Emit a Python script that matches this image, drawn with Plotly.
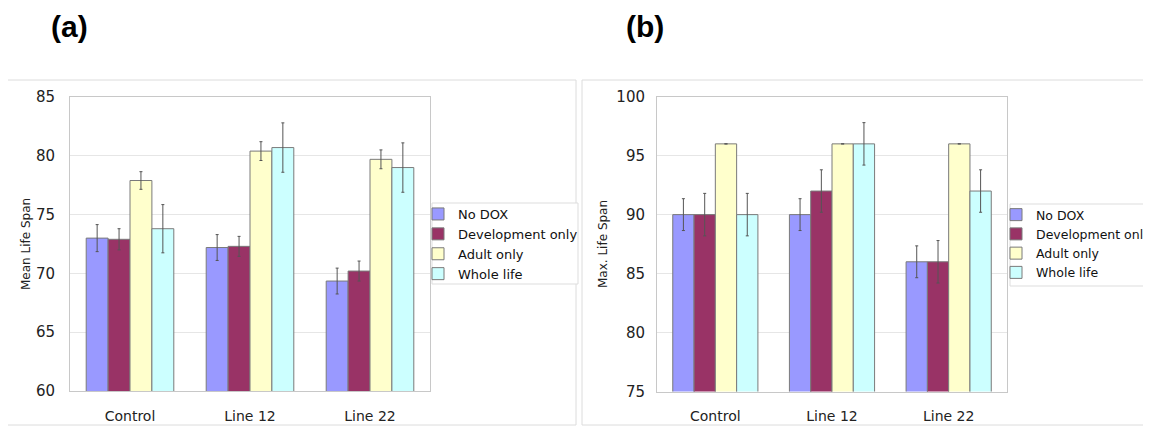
import plotly.graph_objects as go

# The page body has an 8px margin; the figure is sized to fill the rest of the window.
OFF = 8
W, H = 1151 - OFF, 429 - OFF

categories = ["Control", "Line 12", "Line 22"]
series_names = ["No DOX", "Development only", "Adult only", "Whole life"]
colors = ["#9999FF", "#993366", "#FFFFCC", "#CCFFFF"]

# Panel (a): Mean Life Span
mean_no_dox = [73.0, 72.2, 69.35]
mean_dev_only = [72.9, 72.3, 70.2]
mean_adult_only = [77.9, 80.4, 79.7]
mean_whole_life = [73.8, 80.7, 79.0]
mean_err_no_dox = [1.15, 1.1, 1.1]
mean_err_dev_only = [0.9, 0.85, 0.85]
mean_err_adult_only = [0.75, 0.8, 0.8]
mean_err_whole_life = [2.05, 2.1, 2.1]

# Panel (b): Max. Life Span
max_no_dox = [90, 90, 86]
max_dev_only = [90, 92, 86]
max_adult_only = [96, 96, 96]
max_whole_life = [90, 96, 92]
max_err_no_dox = [1.35, 1.35, 1.35]
max_err_dev_only = [1.8, 1.8, 1.8]
max_err_adult_only = [0, 0, 0]
max_err_whole_life = [1.8, 1.8, 1.8]

mean_vals = [mean_no_dox, mean_dev_only, mean_adult_only, mean_whole_life]
mean_errs = [mean_err_no_dox, mean_err_dev_only, mean_err_adult_only, mean_err_whole_life]
max_vals = [max_no_dox, max_dev_only, max_adult_only, max_whole_life]
max_errs = [max_err_no_dox, max_err_dev_only, max_err_adult_only, max_err_whole_life]

FONT = "DejaVu Sans"


def px(x):
    return (x - OFF) / W


def py(y):
    return 1 - (y - OFF) / H


fig = go.Figure()

for i, name in enumerate(series_names):
    fig.add_trace(go.Bar(
        x=categories, y=mean_vals[i], name=name, xaxis="x", yaxis="y",
        marker=dict(color=colors[i], line=dict(color="#7a7a7a", width=1)),
        error_y=dict(type="data", array=mean_errs[i], color="#555555", thickness=1, width=1.5),
        legend="legend",
    ))
for i, name in enumerate(series_names):
    fig.add_trace(go.Bar(
        x=categories, y=max_vals[i], name=name, xaxis="x2", yaxis="y2",
        marker=dict(color=colors[i], line=dict(color="#7a7a7a", width=1)),
        error_y=dict(type="data", array=max_errs[i], color="#555555", thickness=1, width=1.5),
        legend="legend2",
    ))

axis_common = dict(showline=True, linecolor="#c8c8c8", linewidth=1, mirror=True)
xtick_font = dict(family=FONT, size=14, color="#222222")
ytick_font = dict(family=FONT, size=15, color="#222222")
legend_font = dict(family=FONT, size=13, color="#111111")
legend2_font = dict(family=FONT, size=12.5, color="#111111")

fig.update_layout(
    width=W, height=H,
    margin=dict(l=0, r=0, t=0, b=0, autoexpand=False),
    paper_bgcolor="white", plot_bgcolor="white",
    barmode="group", bargap=0.27, bargroupgap=0,
    font=dict(family=FONT, size=12, color="#222222"),
    xaxis=dict(domain=[px(70), px(430)], anchor="y", ticks="", ticklabelstandoff=12,
               showgrid=False, tickfont=xtick_font, automargin=False, **axis_common),
    yaxis=dict(domain=[py(391), py(97)], anchor="x", range=[60, 85], dtick=5,
               showgrid=True, gridcolor="#e6e6e6", ticks="", ticklabelstandoff=11,
               tickfont=ytick_font, automargin=False, **axis_common),
    xaxis2=dict(domain=[px(657), px(1007)], anchor="y2", ticks="", ticklabelstandoff=12,
                showgrid=False, tickfont=xtick_font, automargin=False, **axis_common),
    yaxis2=dict(domain=[py(391.5), py(96.7)], anchor="x2", range=[75, 100], dtick=5,
                showgrid=True, gridcolor="#e6e6e6", ticks="", ticklabelstandoff=8,
                tickfont=ytick_font, automargin=False, **axis_common),
    legend=dict(x=px(418), y=py(199), xanchor="left", yanchor="top",
                bgcolor="rgba(0,0,0,0)", borderwidth=0,
                font=legend_font, tracegroupgap=0, itemwidth=30),
    legend2=dict(x=px(996), y=py(200), xanchor="left", yanchor="top",
                 bgcolor="rgba(0,0,0,0)", borderwidth=0,
                 font=legend2_font, tracegroupgap=0, itemwidth=30),
    showlegend=True,
)

# panel borders
fig.add_shape(type="rect", xref="paper", yref="paper",
              x0=px(7.5), x1=px(576), y0=py(425), y1=py(80),
              line=dict(color="#dcdcdc", width=1), layer="below")
fig.add_shape(type="rect", xref="paper", yref="paper",
              x0=px(582), x1=px(1152), y0=py(425), y1=py(80),
              line=dict(color="#dcdcdc", width=1), layer="below")
# legend boxes
fig.add_shape(type="rect", xref="paper", yref="paper",
              x0=px(432), x1=px(578), y0=py(284), y1=py(203),
              line=dict(color="#dddddd", width=1), fillcolor="white", layer="below")
fig.add_shape(type="rect", xref="paper", yref="paper",
              x0=px(1010), x1=px(1160), y0=py(286), y1=py(204),
              line=dict(color="#dddddd", width=1), fillcolor="white", layer="below")

# y-axis titles
fig.add_annotation(text="Mean Life Span", xref="paper", yref="paper",
                   x=px(26), y=py(244), textangle=-90, showarrow=False,
                   xanchor="center", yanchor="middle",
                   font=dict(family=FONT, size=12, color="#222222"))
fig.add_annotation(text="Max. Life Span", xref="paper", yref="paper",
                   x=px(603), y=py(244), textangle=-90, showarrow=False,
                   xanchor="center", yanchor="middle",
                   font=dict(family=FONT, size=12, color="#222222"))

# panel labels
fig.add_annotation(text="<b>(a)</b>", xref="paper", yref="paper",
                   x=px(69), y=py(26), showarrow=False,
                   xanchor="center", yanchor="middle",
                   font=dict(family="Liberation Sans", size=30, color="black"))
fig.add_annotation(text="<b>(b)</b>", xref="paper", yref="paper",
                   x=px(645), y=py(26), showarrow=False,
                   xanchor="center", yanchor="middle",
                   font=dict(family="Liberation Sans", size=30, color="black"))

fig.write_html("out.html")
